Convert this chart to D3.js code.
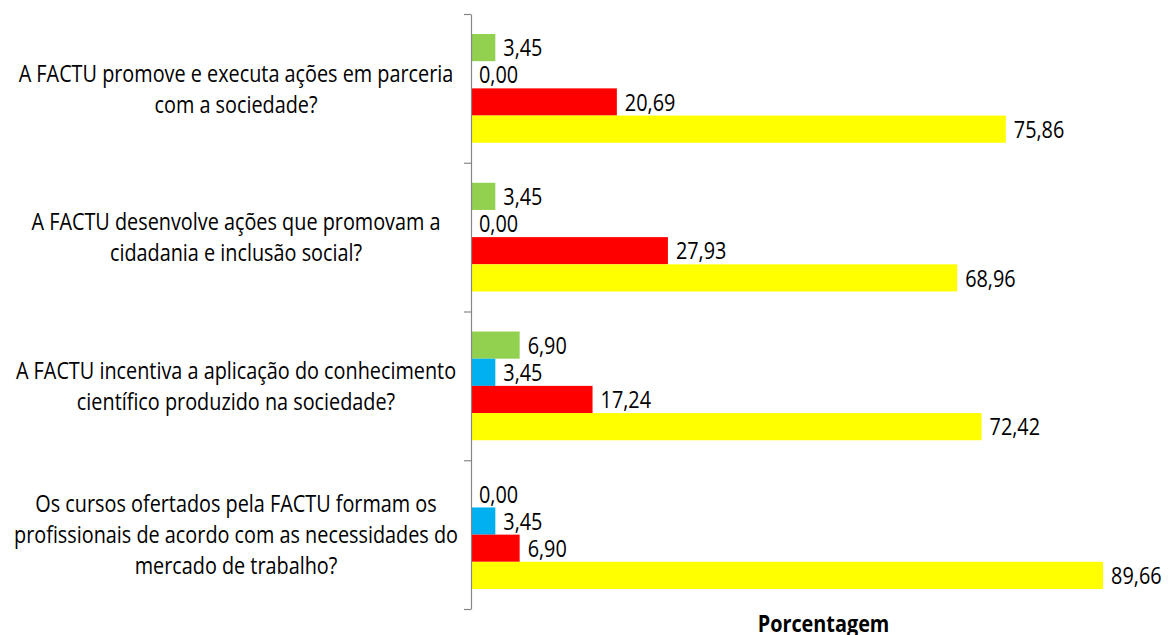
<!DOCTYPE html>
<html>
<head>
<meta charset="utf-8">
<script src="https://cdn.jsdelivr.net/npm/d3@7"></script>
<style>
  body { margin: 0; background: #fff; }
  text { font-family: "Open Sans", sans-serif; fill: #000; }
</style>
</head>
<body>
<svg></svg>
<script>
let width = 1171,
  height = 635,
  fontSize = 24,
  lineGap = 31;

// categories, top to bottom, already split into lines as in the picture
let categories = [
  ["A FACTU promove e executa ações em parceria", "com a sociedade?"],
  ["A FACTU desenvolve ações que promovam a", "cidadania e inclusão social?"],
  ["A FACTU incentiva a aplicação do conhecimento", "científico produzido na sociedade?"],
  ["Os cursos ofertados pela FACTU formam os", "profissionais de acordo com as necessidades do", "mercado de trabalho?"]
];
let seriesKeys = ["s1", "s2", "s3", "s4"];
let seriesColors = ["#92D050", "#00B0F0", "#FF0000", "#FFFF00"];
let s1 = [3.45, 3.45, 6.90, 0.00];
let s2 = [0.00, 0.00, 3.45, 3.45];
let s3 = [20.69, 27.93, 17.24, 6.90];
let s4 = [75.86, 68.96, 72.42, 89.66];
let axisTitle = "Porcentagem";

let seriesValues = [s1, s2, s3, s4];

let svg = d3.select("svg")
  .attr("width", width)
  .attr("height", height);

// squeeze text horizontally to look like the narrow font of the original
let probe = svg.append("text").attr("font-size", fontSize).text(categories[0][0]);
let sx = 435 / probe.node().getComputedTextLength();
probe.remove();

let xScale = d3.scaleLinear().domain([0, 100]).range([471, 1176]);
let yScale = d3.scaleBand()
  .domain(d3.range(categories.length))
  .range([14, 609])
  .paddingInner(0.269)
  .paddingOuter(0.1345);
let ySub = d3.scaleBand().domain(seriesKeys).range([0, yScale.bandwidth()]);

let rows = [];
categories.forEach((c, i) => {
  seriesKeys.forEach((k, j) => {
    rows.push({ cat: i, key: k, color: seriesColors[j], value: seriesValues[j][i] });
  });
});

let fmt = v => v.toFixed(2).replace(".", ",");

svg.append("g")
  .selectAll("rect")
  .data(rows)
  .enter()
  .append("rect")
  .attr("x", xScale(0))
  .attr("y", d => yScale(d.cat) + ySub(d.key))
  .attr("width", d => xScale(d.value) - xScale(0))
  .attr("height", ySub.bandwidth())
  .style("fill", d => d.color);

svg.append("g")
  .selectAll("text")
  .data(rows)
  .enter()
  .append("text")
  .attr("font-size", fontSize)
  .attr("dy", "0.36em")
  .attr("transform", d => `translate(${xScale(d.value) + 8}, ${yScale(d.cat) + ySub(d.key) + ySub.bandwidth() / 2}) scale(${sx}, 1)`)
  .text(d => fmt(d.value));

// vertical axis with ticks at category boundaries
let yAxisScale = d3.scaleLinear().domain([0, categories.length]).range([14, 609]);
let yAxis = d3.axisLeft(yAxisScale)
  .tickValues(d3.range(categories.length + 1))
  .tickSize(7)
  .tickSizeOuter(0)
  .tickFormat("");
let gAxis = svg.append("g")
  .attr("transform", `translate(${xScale(0)}, 0)`)
  .call(yAxis);
gAxis.selectAll("path, line").attr("stroke", "#868686").attr("stroke-width", 1.2);

// category labels
let labels = svg.append("g");
categories.forEach((lines, i) => {
  let cy = yScale(i) + yScale.bandwidth() / 2;
  let top = cy - (lines.length - 1) * lineGap / 2;
  lines.forEach((line, k) => {
    labels.append("text")
      .attr("font-size", fontSize)
      .attr("text-anchor", "middle")
      .attr("dy", "0.36em")
      .attr("transform", `translate(236, ${top + k * lineGap}) scale(${sx}, 1)`)
      .text(line);
  });
});

svg.append("text")
  .attr("font-size", fontSize)
  .attr("font-weight", "bold")
  .attr("text-anchor", "middle")
  .attr("transform", `translate(${(xScale(0) + xScale(100)) / 2}, 632) scale(${sx}, 1)`)
  .text(axisTitle);
</script>
</body>
</html>
